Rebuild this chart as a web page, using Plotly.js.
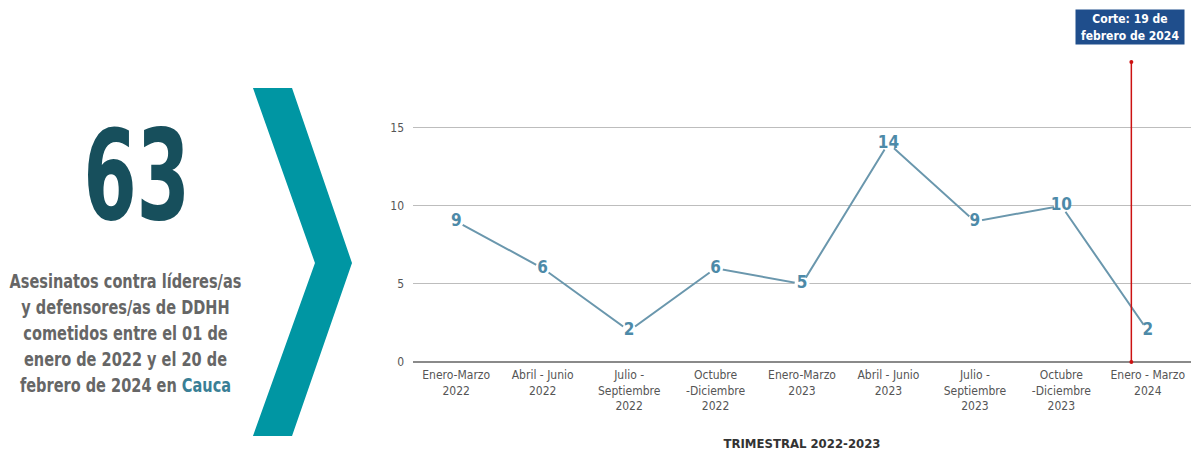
<!DOCTYPE html>
<html>
<head>
<meta charset="utf-8">
<script src="https://cdn.plot.ly/plotly-3.0.1.min.js"></script>
<style>html,body{margin:0;padding:0;background:#fff;}#chart{width:1193px;height:451px;}</style>
</head>
<body>
<div id="chart"></div>
<script>
const categories = [
  "Enero-Marzo<br>2022", "Abril - Junio<br>2022", "Julio -<br>Septiembre<br>2022",
  "Octubre<br>-Diciembre<br>2022", "Enero-Marzo<br>2023", "Abril - Junio<br>2023",
  "Julio -<br>Septiembre<br>2023", "Octubre<br>-Diciembre<br>2023", "Enero - Marzo<br>2024"
];
const values = [9, 6, 2, 6, 5, 14, 9, 10, 2];
const yTicks = [0, 5, 10, 15];
const totalLabel = "63";
const cutoffX = 7.81;
const cutoffTop = 19.2;

const COND = "'DejaVu Sans Condensed', 'Roboto', sans-serif";

// pixel -> paper helpers (plot area: x 413..1191, y 62..362)
const L = 413, R = 2, T = 62, B = 89, W = 1193, H = 451;
const pw = W - L - R, ph = H - T - B;
const px = x => (x - L) / pw;
const py = y => (H - B - y) / ph;

const chevron = [[253,88],[292,88],[352,263],[292,436],[253,436],[315,263]];
const chevPath = 'M' + chevron.map(p => px(p[0]).toFixed(4) + ',' + py(p[1]).toFixed(4)).join(' L') + ' Z';

const traces = [
  {
    x: categories, y: values, type: 'scatter', mode: 'lines+markers+text',
    line: {color: '#6a97ad', width: 2},
    marker: {color: '#ffffff', size: 15, line: {width: 0}},
    text: values.map(String), textposition: 'middle center',
    textfont: {family: COND, size: 17, color: '#4d8aa8', weight: 'bold'},
    cliponaxis: false, hoverinfo: 'x+y'
  },
  {
    x: [cutoffX, cutoffX], y: [0, cutoffTop], type: 'scatter', mode: 'lines+markers',
    xaxis: 'x2', line: {color: '#cc1111', width: 1.5},
    marker: {color: '#cc1111', size: 4}, cliponaxis: false, hoverinfo: 'skip'
  }
];

const layout = {
  width: W, height: H,
  margin: {l: L, r: R, t: T, b: B},
  paper_bgcolor: '#fff', plot_bgcolor: '#fff',
  showlegend: false,
  xaxis: {
    type: 'category', range: [-0.5, 8.5], autorange: false, showgrid: false, zeroline: false,
    showline: false, ticks: '', ticklabelstandoff: 4,
    tickfont: {family: COND, size: 12, color: '#555'},
    title: {text: 'TRIMESTRAL 2022-2023', font: {family: COND, size: 13, color: '#333', weight: 'bold'}, standoff: 26},
    fixedrange: true
  },
  xaxis2: {
    overlaying: 'x', range: [-0.5, 8.5], visible: false, fixedrange: true
  },
  yaxis: {
    range: [0, cutoffTop], tickvals: yTicks, showgrid: true, gridcolor: '#bdbdbd', gridwidth: 1,
    zeroline: true, zerolinecolor: '#8a8a8a', zerolinewidth: 2,
    showline: false, ticks: '', ticklabelstandoff: 8,
    tickfont: {family: COND, size: 12, color: '#555'}, fixedrange: true
  },
  shapes: [
    {type: 'path', xref: 'paper', yref: 'paper', path: chevPath, fillcolor: '#0096a3', line: {width: 0}}
  ],
  annotations: [
    {xref: 'paper', yref: 'paper', x: px(136), y: py(176), text: '<b>' + totalLabel + '</b>', showarrow: false,
     font: {family: COND, size: 124, color: '#174f5c'}, xanchor: 'center', yanchor: 'middle'},
    {xref: 'paper', yref: 'paper', x: px(125), y: py(333), showarrow: false, xanchor: 'center', yanchor: 'middle',
     align: 'center',
     text: '<b>Asesinatos contra líderes/as<br>y defensores/as de DDHH<br>cometidos entre el 01 de<br>enero de 2022 y el 20 de<br>febrero de 2024 en <span style="color:#3a7f96">Cauca</span></b>',
     font: {family: COND, size: 20, color: '#666'}},
    {xref: 'paper', yref: 'paper', x: px(1130), y: py(27), showarrow: false, xanchor: 'center', yanchor: 'middle',
     align: 'center', bgcolor: '#1f4e8c', borderpad: 1,
     text: '<b>Corte: 19 de<br>febrero de 2024</b>', font: {family: COND, size: 13, color: '#fff'}}
  ]
};

// horizontal condensing of the left-panel texts to mimic the narrow typeface
const targetWidths = [107, 232, 98];
Plotly.newPlot('chart', traces, layout, {displayModeBar: false, staticPlot: true}).then(gd => {
  const texts = gd.querySelectorAll('g.annotation text.annotation-text');
  texts.forEach((t, i) => {
    const bb = t.getBBox();
    const s = Math.min(1, targetWidths[i] / bb.width);
    const cx = bb.x + bb.width / 2;
    t.setAttribute('transform', `translate(${cx},0) scale(${s},1) translate(${-cx},0)`);
  });
});
</script>
</body>
</html>
